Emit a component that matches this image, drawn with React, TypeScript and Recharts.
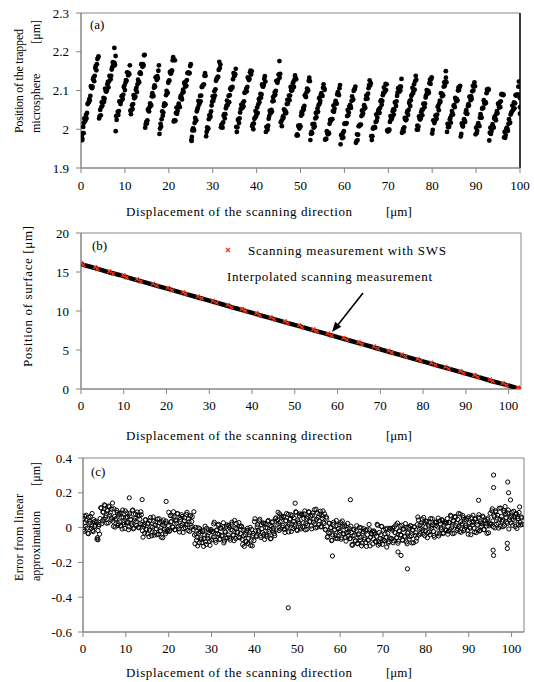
import { ScatterChart, Scatter, XAxis, YAxis, ReferenceArea, ReferenceLine } from "recharts"

const FONT = '"Liberation Serif", "Times New Roman", serif'
const AXIS_GRAY = "#868686"
const SWS_RED = "#f03c1e"

// ---- (a) trapped microsphere position, samples every 0.25 µm (two interleaved passes) ----
const A_STEP = 0.25
const A_Y = [
  1.983, 1.977, 2.006, 2.028, 2.023, 2.028, 2.065, 2.07, 2.074, 2.111, 2.106, 2.129, 2.124, 2.158, 2.152, 2.181, 2.188,
  2.034, 2.036, 2.07, 2.071, 2.071, 2.105, 2.097, 2.116, 2.108, 2.138, 2.129, 2.154, 2.173, 2.164, 2.166,
  2.034, 2.036, 2.037, 2.072, 2.065, 2.085, 2.078, 2.109, 2.101, 2.127, 2.147, 2.139, 2.142,
  2.048, 2.05, 2.052, 2.088, 2.082, 2.102, 2.096, 2.128, 2.121, 2.147, 2.168, 2.161, 2.164, 2.192,
  2.013, 2.015, 2.051, 2.046, 2.067, 2.061, 2.093, 2.086, 2.113, 2.134, 2.127, 2.131, 2.165,
  2.002, 2.007, 2.046, 2.043, 2.067, 2.064, 2.099, 2.094, 2.124, 2.148, 2.144, 2.151, 2.186,
  2.023, 2.022, 2.056, 2.047, 2.066, 2.057, 2.087, 2.077, 2.102, 2.12, 2.11, 2.112, 2.145, 2.146, 2.145, 2.168,
  1.98, 2.002, 1.997, 2.029, 2.023, 2.051, 2.073, 2.067, 2.072, 2.109, 2.113, 2.116, 2.145,
  1.982, 2.005, 2.002, 2.036, 2.032, 2.061, 2.085, 2.08, 2.087, 2.125, 2.131, 2.135, 2.174, 2.167,
  2.011, 2.004, 2.035, 2.028, 2.054, 2.074, 2.067, 2.07, 2.105, 2.108, 2.109, 2.145, 2.138, 2.156,
  1.993, 2.024, 2.016, 2.043, 2.063, 2.055, 2.059, 2.094, 2.097, 2.098, 2.134, 2.127, 2.147, 2.141,
  2.008, 2.0, 2.027, 2.047, 2.039, 2.042, 2.078, 2.08, 2.081, 2.116, 2.11, 2.13, 2.123,
  2.006, 1.999, 2.027, 2.048, 2.042, 2.046, 2.083, 2.086, 2.089, 2.125, 2.12, 2.141, 2.133,
  2.018, 2.008, 2.033, 2.051, 2.041, 2.042, 2.076, 2.076, 2.075, 2.109, 2.1, 2.118, 2.109, 2.139, 2.129,
  1.987, 2.009, 2.002, 2.007, 2.044, 2.048, 2.051, 2.088, 2.083, 2.105, 2.1, 2.133,
  1.972, 1.993, 2.013, 2.004, 2.007, 2.042, 2.044, 2.045, 2.08, 2.073, 2.093, 2.086, 2.116, 2.102,
  1.975, 1.995, 1.987, 1.989, 2.024, 2.025, 2.026, 2.061, 2.053, 2.073, 2.066, 2.096, 2.088, 2.114,
  1.985, 1.977, 1.979, 2.014, 2.015, 2.016, 2.05, 2.043, 2.062, 2.055, 2.085, 2.077, 2.103, 2.11,
  1.969, 1.972, 2.008, 2.011, 2.012, 2.048, 2.041, 2.062, 2.055, 2.087, 2.079, 2.106, 2.126, 2.119,
  1.972, 2.002, 2.003, 2.004, 2.038, 2.03, 2.049, 2.042, 2.072, 2.063, 2.088, 2.108, 2.099, 2.101,
  1.997, 1.999, 1.999, 2.034, 2.026, 2.046, 2.038, 2.069, 2.06, 2.086, 2.106, 2.097, 2.1, 2.13,
  1.993, 1.994, 2.029, 2.023, 2.043, 2.037, 2.068, 2.06, 2.086, 2.107, 2.099, 2.102, 2.138,
  1.999, 1.999, 2.033, 2.025, 2.044, 2.036, 2.066, 2.057, 2.082, 2.101, 2.092, 2.094, 2.128, 2.129,
  1.989, 2.023, 2.016, 2.035, 2.027, 2.058, 2.049, 2.074, 2.093, 2.085, 2.087, 2.121, 2.123, 2.121,
  2.014, 2.006, 2.025, 2.017, 2.047, 2.038, 2.062, 2.081, 2.072, 2.074, 2.108, 2.109,
  1.981, 2.015, 2.007, 2.026, 2.019, 2.049, 2.04, 2.065, 2.084, 2.075, 2.078, 2.112, 2.113, 2.111,
  2.004, 1.996, 2.016, 2.008, 2.039, 2.03, 2.055, 2.075, 2.066, 2.068, 2.103, 2.104,
  1.971, 2.004, 1.995, 2.013, 2.004, 2.033, 2.023, 2.047, 2.066, 2.056, 2.057, 2.09, 2.09, 2.089,
  1.993, 1.985, 2.004, 1.996, 2.026, 2.017, 2.042, 2.061, 2.052, 2.054, 2.088, 2.089, 2.089, 2.123, 2.057,
]
// second pass, offset half a step (0.125, 0.375, ...)
const A_MID_START = 0.125
const A_MID_Y = [
  1.986, 1.99, 2.016, 2.02, 2.037, 2.042, 2.067, 2.078, 2.086, 2.109, 2.11, 2.134, 2.138, 2.164, 2.168, 2.185, 2.028,
  2.05, 2.057, 2.061, 2.081, 2.079, 2.099, 2.1, 2.122, 2.123, 2.136, 2.138, 2.16, 2.167, 2.171, 2.189,
  2.024, 2.045, 2.047, 2.07, 2.072, 2.086, 2.089, 2.112, 2.12, 2.125, 2.146, 2.145, 2.165,
  2.039, 2.062, 2.065, 2.08, 2.084, 2.107, 2.116, 2.122, 2.144, 2.143, 2.165, 2.168, 2.191, 2.004,
  2.019, 2.023, 2.048, 2.057, 2.063, 2.085, 2.085, 2.107, 2.11, 2.134, 2.137, 2.151, 1.988,
  2.014, 2.026, 2.035, 2.06, 2.063, 2.088, 2.093, 2.12, 2.126, 2.144, 2.151, 2.178, 2.02,
  2.023, 2.042, 2.04, 2.059, 2.06, 2.081, 2.082, 2.094, 2.096, 2.117, 2.123, 2.127, 2.146, 2.144, 2.163, 1.972,
  1.997, 2.001, 2.016, 2.021, 2.046, 2.056, 2.063, 2.086, 2.087, 2.11, 2.114, 2.138, 2.138,
  1.993, 2.0, 2.026, 2.038, 2.046, 2.071, 2.073, 2.098, 2.103, 2.13, 2.135, 2.153, 2.158, 2.005,
  2.013, 2.018, 2.039, 2.039, 2.06, 2.062, 2.086, 2.088, 2.102, 2.106, 2.129, 2.138, 2.142, 2.006,
  2.005, 2.026, 2.028, 2.052, 2.054, 2.068, 2.072, 2.095, 2.104, 2.109, 2.131, 2.13, 2.151, 2.15,
  2.013, 2.015, 2.03, 2.033, 2.056, 2.064, 2.07, 2.091, 2.09, 2.111, 2.114, 2.137, 1.993,
  2.005, 2.009, 2.034, 2.043, 2.05, 2.072, 2.073, 2.095, 2.099, 2.123, 2.127, 2.141, 2.143,
  2.02, 2.026, 2.03, 2.049, 2.046, 2.065, 2.066, 2.087, 2.087, 2.1, 2.101, 2.122, 2.128, 2.132, 1.984,
  1.984, 2.006, 2.01, 2.035, 2.039, 2.055, 2.06, 2.085, 2.095, 2.102, 2.125, 2.124,
  1.988, 1.99, 2.012, 2.014, 2.028, 2.031, 2.054, 2.062, 2.067, 2.088, 2.087, 2.107, 2.106, 1.973,
  1.975, 1.989, 1.991, 2.014, 2.021, 2.026, 2.047, 2.045, 2.066, 2.068, 2.09, 2.092, 2.106, 1.961,
  1.983, 1.99, 1.995, 2.015, 2.014, 2.034, 2.036, 2.058, 2.06, 2.073, 2.076, 2.099, 2.104, 1.965,
  1.987, 1.986, 2.008, 2.011, 2.034, 2.037, 2.051, 2.055, 2.078, 2.087, 2.092, 2.114, 2.113, 1.982,
  1.982, 2.004, 2.006, 2.019, 2.021, 2.043, 2.051, 2.055, 2.075, 2.073, 2.094, 2.095, 2.117, 2.116,
  1.994, 1.996, 2.019, 2.026, 2.031, 2.051, 2.05, 2.07, 2.072, 2.095, 2.096, 2.11, 2.11, 1.991,
  2.0, 2.005, 2.026, 2.026, 2.047, 2.05, 2.073, 2.075, 2.089, 2.093, 2.116, 2.124, 2.128,
  2.009, 2.007, 2.027, 2.028, 2.05, 2.051, 2.064, 2.066, 2.088, 2.095, 2.099, 2.119, 2.117, 2.134,
  1.998, 2.021, 2.022, 2.035, 2.038, 2.06, 2.067, 2.071, 2.092, 2.09, 2.11, 2.112, 2.133, 1.993,
  2.005, 2.007, 2.029, 2.036, 2.04, 2.06, 2.057, 2.077, 2.078, 2.1, 2.101, 2.112,
  1.988, 2.01, 2.017, 2.022, 2.042, 2.04, 2.06, 2.061, 2.083, 2.085, 2.098, 2.1, 2.121, 1.987,
  1.99, 2.011, 2.009, 2.03, 2.031, 2.053, 2.055, 2.068, 2.07, 2.093, 2.1, 2.102,
  1.991, 1.988, 2.007, 2.007, 2.028, 2.028, 2.04, 2.041, 2.063, 2.069, 2.072, 2.091, 2.088, 1.979,
  1.978, 2.0, 2.001, 2.014, 2.016, 2.038, 2.045, 2.049, 2.069, 2.067, 2.087, 2.088, 2.11, 2.088,
]
const A_EXTRA_X = [0.3, 0.6, 7.6, 7.9, 21.4, 25.2, 45.2, 83.1, 100, 100]
const A_EXTRA_Y = [1.972, 1.99, 2.21, 1.995, 2.178, 1.97, 2.176, 2.15, 2.08, 2.04]
const A_X_TICKS = [0, 10, 20, 30, 40, 50, 60, 70, 80, 90, 100]
const A_Y_TICKS = [1.9, 2, 2.1, 2.2, 2.3]

// ---- (b) surface position ----
const B_LINE_X = [0, 3, 6, 9, 12, 15, 18, 21, 24, 27, 30, 33, 36, 39, 42, 45, 48, 51, 54, 57, 60, 63, 66, 69, 72, 75, 78, 81, 84, 87, 90, 93, 96, 99, 102, 102.7]
const B_LINE_Y = [16.0, 15.55, 15.05, 14.62, 14.12, 13.68, 13.18, 12.74, 12.25, 11.8, 11.34, 10.87, 10.38, 9.93, 9.45, 9.0, 8.51, 8.06, 7.58, 7.13, 6.64, 6.19, 5.71, 5.26, 4.77, 4.32, 3.84, 3.39, 2.9, 2.46, 1.97, 1.52, 1.03, 0.59, 0.12, 0.0]
const B_SWS_X = [0, 0.5, 3.3, 3.8, 6.6, 7.5, 9.9, 10.7, 13.1, 14.0, 16.8, 17.7, 20.3, 21.3, 23.8, 24.4, 27.3, 28.2, 30.8, 31.7, 34.3, 35.2, 37.6, 38.4, 41.0, 41.8, 44.3, 45.1, 47.6, 48.3, 51.0, 51.7, 54.3, 55.1, 57.7, 58.6, 61.4, 62.2, 64.9, 65.7, 68.5, 69.4, 71.9, 72.7, 75.0, 75.9, 78.7, 79.4, 81.9, 82.9, 85.2, 86.0, 88.7, 89.5, 92.0, 92.8, 95.6, 96.3, 98.6, 99.5, 102.1, 102.7]
const B_SWS_Y = [16.15, 15.9, 15.62, 15.38, 15.1, 14.8, 14.58, 14.3, 14.08, 13.8, 13.5, 13.22, 12.96, 12.66, 12.42, 12.18, 11.88, 11.6, 11.33, 11.05, 10.78, 10.5, 10.26, 10.0, 9.74, 9.47, 9.22, 8.95, 8.7, 8.45, 8.18, 7.93, 7.66, 7.4, 7.14, 6.85, 6.56, 6.29, 6.02, 5.74, 5.46, 5.17, 4.92, 4.65, 4.44, 4.15, 3.86, 3.61, 3.36, 3.06, 2.86, 2.58, 2.31, 2.04, 1.8, 1.52, 1.24, 0.98, 0.76, 0.48, 0.2, 0.0]
const B_X_MAX = 102.9
const B_Y_TICKS = [0, 5, 10, 15, 20]

// ---- (c) error from linear approximation, samples every 0.25 µm (two interleaved passes) ----
const C_STEP = 0.25
const C_Y = [
  0.052, -0.021, 0.028, 0.071, -0.002, -0.035, 0.037, 0.064, 0.011, -0.016, 0.046, 0.006,
  0.038, -0.067, -0.017, 0.017,
  0.052, 0.112, 0.039, 0.088, 0.131, 0.058, 0.025, 0.097, 0.124, 0.071, 0.044, 0.106,
  0.036, 0.108, 0.003, 0.053, 0.087, 0.022, 0.082, 0.009, 0.058, 0.101, 0.028, -0.005,
  0.057, 0.084, 0.031, 0.004, 0.066, 0.026, 0.098, -0.007, 0.043, 0.077, 0.012, 0.072, -0.001, 0.048, 0.091, 0.018,
  -0.055, 0.017, 0.044, -0.009, -0.036, 0.026, -0.014, 0.058, -0.047, 0.003, 0.037, -0.028, 0.032, -0.041, 0.008, 0.051, -0.022, -0.055, 0.017, 0.044, -0.009, -0.036, 0.026, -0.014,
  0.088, -0.017, 0.033, 0.067, 0.002, 0.062, -0.011, 0.038, 0.081, 0.008, -0.025, 0.047, 0.074, 0.021, -0.006, 0.056, 0.016, 0.088, -0.017, 0.033, 0.067, 0.002, 0.062, -0.011,
  -0.042, 0.001, -0.072, -0.105, -0.033, -0.006, -0.059, -0.086, -0.024, -0.064, 0.008, -0.097, -0.047, -0.013, -0.078, -0.018,
  -0.071, -0.022, 0.021, -0.052, -0.085, -0.013, 0.014, -0.039, -0.066, -0.004, -0.044, 0.028, -0.077, -0.027, 0.007, -0.058,
  0.012, -0.061, -0.012, 0.031, -0.042, -0.075, -0.003, 0.024, -0.029, -0.056, 0.006, -0.034,
  0.008, -0.097, -0.047, -0.013, -0.078, -0.018, -0.091, -0.042, 0.001, -0.072, -0.105, -0.033,
  0.034, -0.019, -0.046, 0.016, -0.024, 0.048, -0.057, -0.007, 0.027, -0.038, 0.022, -0.051, -0.002, 0.041, -0.032, -0.065, 0.007, 0.034, -0.019, -0.046,
  0.056, 0.016, 0.088, -0.017, 0.033, 0.067, 0.002, 0.062, -0.011, 0.038, 0.081, 0.008, -0.025, 0.047, 0.074, 0.021, -0.006, 0.056, 0.016, 0.088, -0.017, 0.033, 0.067, 0.002,
  0.077, 0.004, 0.053, 0.096, 0.023, -0.01, 0.062, 0.089, 0.036, 0.009, 0.071, 0.031, 0.103, -0.002, 0.048, 0.082, 0.017, 0.077, 0.004, 0.053, 0.096, 0.023, -0.01, 0.062,
  -0.056, -0.029, 0.024, -0.003, -0.075, -0.042, 0.031, -0.012, -0.061, 0.012, -0.048, 0.017, -0.017, -0.067, 0.038, -0.034, 0.006, -0.056, -0.029, 0.024,
  -0.024, -0.064, 0.008, -0.097, -0.047, -0.013, -0.078, -0.018, -0.091, -0.042, 0.001, -0.072, -0.105, -0.033, -0.006, -0.059, -0.086,
  -0.012, -0.072, 0.018, -0.105, -0.035, -0.021, -0.066, -0.026, -0.079, -0.05, 0.013, -0.08, -0.093, -0.041, 0.006, -0.067, -0.074,
  -0.036, -0.056, -0.004, -0.089, -0.059, -0.005,
  -0.063, -0.003, -0.076, -0.027, 0.016, -0.057, -0.09, -0.018, 0.009, -0.044, -0.071, -0.009, -0.049, 0.023, -0.082, -0.032, 0.002, -0.052, 0.01, -0.088, -0.015, 0.004, -0.045, -0.078,
  0.017, 0.044, -0.009, -0.036, 0.026, -0.014, 0.058, -0.047, 0.003, 0.037, -0.028, 0.032, -0.041, 0.008, 0.051, -0.022, -0.055, 0.029, 0.032, 0.003, -0.048, 0.038, -0.002, 0.046, -0.035, 0.015, 0.025, -0.016,
  0.052, -0.021, 0.028, 0.071, -0.002, -0.035, 0.037, 0.064, 0.011, -0.016, 0.046, 0.006, 0.078, -0.027, 0.023, 0.057, -0.008,
  0.012, 0.043, -0.015, 0.062, 0.002, -0.041, 0.03, 0.071, -0.004, 0.048, -0.029, 0.017, 0.059, -0.02, 0.034, 0.008, 0.066,
  -0.012, 0.041, 0.024, -0.033, 0.055, 0.01,
  0.082, 0.021, 0.108, 0.004, 0.063, 0.096, 0.019, 0.071, -0.003, 0.048, 0.112, 0.036, 0.005, 0.089, 0.121, 0.058, 0.024, 0.101, 0.043, 0.159, 0.067, 0.012, 0.094, 0.038, 0.076, -0.005, 0.052, 0.087, 0.029, 0.061, 0.018,
]
const C_MID_START = 0.125
const C_MID_Y = [
  -0.011, 0.066, 0.008, 0.041, -0.032, 0.059, 0.025, -0.005, 0.081, -0.023, 0.034, 0.014,
  0.029, -0.058, 0.007, -0.038,
  0.114, 0.022, 0.089, 0.049, 0.126, 0.068, 0.101, 0.028, 0.119, 0.085, 0.055, 0.141,
  0.007, 0.064, 0.044, 0.099, 0.012, 0.077, 0.032, 0.084, -0.008, 0.059, 0.019, 0.096,
  0.028, 0.061, -0.012, 0.079, 0.045, 0.015, 0.101, -0.003, 0.054, 0.034, 0.089, 0.002, 0.067, 0.022, 0.074, -0.018,
  0.009, -0.031, 0.046, -0.012, 0.021, -0.052, 0.039, 0.005, -0.025, 0.061, -0.043, 0.014, -0.006, 0.049, -0.038, 0.027, -0.018, 0.034, -0.058, 0.009, -0.024, 0.038, -0.019, 0.012,
  -0.022, 0.069, 0.035, 0.005, 0.091, -0.013, 0.044, 0.024, 0.079, -0.008, 0.057, 0.012, 0.064, -0.028, 0.039, -0.001, 0.076, 0.018, 0.051, -0.022, 0.069, 0.035, 0.005, 0.091,
  -0.093, -0.036, -0.056, -0.001, -0.088, -0.023, -0.068, -0.016, -0.108, -0.041, -0.081, -0.004, -0.062, -0.029, -0.102, -0.011,
  -0.025, -0.055, 0.031, -0.073, -0.016, -0.036, 0.019, -0.068, -0.003, -0.048, 0.004, -0.088, -0.021, -0.061, 0.016, -0.042,
  0.001, -0.072, 0.019, -0.015, -0.045, 0.041, -0.063, -0.006, -0.026, 0.029, -0.058, 0.007,
  -0.068, -0.016, -0.108, -0.041, -0.081, -0.004, -0.062, -0.029, -0.102, -0.011, -0.045, -0.075,
  0.051, -0.053, 0.004, -0.016, 0.039, -0.048, 0.017, -0.028, 0.024, -0.068, -0.001, -0.041, 0.036, -0.022, 0.011, -0.062, 0.029, -0.005, -0.035, 0.051,
  -0.013, 0.044, 0.024, 0.079, -0.008, 0.057, 0.012, 0.064, -0.028, 0.039, -0.001, 0.076, 0.018, 0.051, -0.022, 0.069, 0.035, 0.005, 0.091, -0.013, 0.044, 0.024, 0.079, -0.008,
  0.072, 0.027, 0.079, -0.013, 0.054, 0.014, 0.091, 0.033, 0.066, -0.007, 0.084, 0.05, 0.02, 0.106, 0.002, 0.059, 0.039, 0.094, 0.007, 0.068, 0.031, 0.079, -0.013, 0.054,
  -0.051, 0.026, -0.032, 0.001, -0.072, 0.019, -0.015, -0.045, 0.041, -0.063, -0.006, -0.026, 0.029, -0.058, 0.007, -0.038, 0.014, -0.078, -0.011, -0.051,
  -0.004, -0.062, -0.029, -0.102, -0.011, -0.045, -0.075, 0.011, -0.093, -0.036, -0.056, -0.001, -0.088, -0.023, -0.068, -0.016, -0.108, -0.041,
  -0.073, -0.012, -0.054, -0.037, -0.094, -0.019, -0.037, -0.083, 0.019, -0.101, -0.028, -0.064, 0.007, -0.096, -0.015, -0.076, -0.008, -0.112, -0.033,
  -0.081, -0.004, -0.062,
  -0.014, -0.087, 0.004, -0.03, -0.06, 0.026, -0.078, -0.021, -0.041, 0.014, -0.073, -0.008, -0.053, -0.001, -0.093, -0.026, -0.066, 0.011, -0.047, -0.014, -0.087, 0.004, -0.03, -0.06,
  0.061, -0.043, 0.014, -0.006, 0.049, -0.038, 0.027, -0.018, 0.034, -0.058, 0.009, -0.024, 0.052, -0.004, 0.015, -0.045, 0.031, 0.012, -0.031, 0.055, -0.036, 0.02, -0.012, 0.041, -0.03, 0.033, -0.011, 0.026,
  -0.038, 0.029,
  -0.011, 0.066, 0.008, 0.041, -0.032, 0.059, 0.025, -0.005, 0.081, -0.023, 0.034, 0.014, 0.069, -0.018, 0.047, 0.002, 0.054, -0.038, 0.029,
  -0.004, 0.058, 0.015, 0.033, -0.025, 0.051, 0.032, -0.012, 0.074, -0.016, 0.026, 0.021, 0.061, -0.011, 0.039, 0.009, 0.046, -0.03, 0.022,
  0.019, 0.096, 0.038, 0.071, -0.002, 0.089, 0.055, 0.025, 0.111, 0.007, 0.064, 0.044, 0.099, 0.012, 0.077, 0.032, 0.084, -0.008, 0.059,
  0.027, 0.088, 0.046, 0.063, 0.006, 0.081, 0.063, 0.017, 0.119, 0.015, 0.056,
]
const C_EXTRA_X = [3.5, 10.8, 13.8, 19.4, 47.9, 49.5, 58.2, 62.4, 73.5, 74.2, 75.7, 92.3, 95.7, 95.8, 95.8, 95.8, 99.0, 99.0, 99.1, 99.3]
const C_EXTRA_Y = [-0.07, 0.171, 0.161, 0.15, -0.461, 0.14, -0.163, 0.16, -0.14, -0.16, -0.237, 0.157, -0.13, -0.16, 0.23, 0.302, -0.09, -0.12, 0.262, 0.2]
const C_Y_TICKS = [-0.6, -0.4, -0.2, 0, 0.2, 0.4]

const X_TITLE = "Displacement of the scanning direction"
const UNIT = "[μm]"

const aPoints = [
  ...A_Y.map((y, i) => ({ x: i * A_STEP, y })),
  ...A_MID_Y.map((y, i) => ({ x: A_MID_START + i * A_STEP, y })),
  ...A_EXTRA_X.map((x, i) => ({ x, y: A_EXTRA_Y[i] })),
]
const bLine = B_LINE_X.map((x, i) => ({ x, y: B_LINE_Y[i] }))
const bSws = B_SWS_X.map((x, i) => ({ x, y: B_SWS_Y[i] }))
const cPoints = [
  ...C_Y.map((y, i) => ({ x: i * C_STEP, y })),
  ...C_MID_Y.map((y, i) => ({ x: C_MID_START + i * C_STEP, y })),
  ...C_EXTRA_X.map((x, i) => ({ x, y: C_EXTRA_Y[i] })),
]

const tickStyle = { fill: "#000", fontSize: 13, fontFamily: FONT }

const Dot = (p: any) => <circle cx={p.cx} cy={p.cy} r={2.4} fill="#000" />
const Ring = (p: any) => <circle cx={p.cx} cy={p.cy} r={2.1} fill="none" stroke="#000" strokeWidth={1} />
const Cross = (p: any) => (
  <path
    d={`M${p.cx - 2},${p.cy - 2}L${p.cx + 2},${p.cy + 2}M${p.cx - 2},${p.cy + 2}L${p.cx + 2},${p.cy - 2}`}
    stroke={SWS_RED}
    strokeWidth={1.2}
  />
)
const Nothing = () => <g />

const axisCommon = {
  tick: tickStyle,
  axisLine: { stroke: AXIS_GRAY },
  tickLine: { stroke: AXIS_GRAY },
  tickSize: 5,
  interval: 0 as const,
  allowDataOverflow: true,
}

const XTitle = ({ y }: { y: number }) => (
  <g fontFamily={FONT} fontSize={13} fill="#000">
    <text x={126} y={y} textLength={226} lengthAdjust="spacing">{X_TITLE}</text>
    <text x={386} y={y}>{UNIT}</text>
  </g>
)

const Overlay = () => (
  <svg width={534} height={682} style={{ position: "absolute", left: 0, top: 0, pointerEvents: "none" }}>
    <g fontFamily={FONT} fontSize={13} fill="#000">
      {/* panel (a) */}
      <text x={90} y={28.5}>(a)</text>
      <text transform="translate(22.5,133) rotate(-90)" fontSize={12} textLength={104} lengthAdjust="spacing">Position of the trapped</text>
      <text transform="translate(39.5,133) rotate(-90)" fontSize={12}>microsphere</text>
      <text transform="translate(39.5,20) rotate(-90)" fontSize={12} textAnchor="end">{UNIT}</text>

      {/* panel (b) */}
      <text x={92} y={249.5}>(b)</text>
      <text transform="translate(31.5,367) rotate(-90)" textLength={141} lengthAdjust="spacing">Position of surface [μm]</text>
      <path d="M226,248L230,252M226,252L230,248" stroke={SWS_RED} strokeWidth={1.4} />
      <text x={248} y={254.5} textLength={198} lengthAdjust="spacing">Scanning measurement with SWS</text>
      <text x={227} y={281} textLength={205} lengthAdjust="spacing">Interpolated scanning measurement</text>
      <line x1={363} y1={293} x2={337} y2={326} stroke="#000" strokeWidth={1.6} />
      <polygon points="332,332 341.3,326.7 335.1,321.7" fill="#000" />

      {/* panel (c) */}
      <text x={91} y={476}>(c)</text>
      <text transform="translate(22.5,581) rotate(-90)" fontSize={12} textLength={87} lengthAdjust="spacing">Error from linear</text>
      <text transform="translate(39.5,581) rotate(-90)" fontSize={12}>approximation</text>
      <text transform="translate(39.5,462) rotate(-90)" fontSize={12} textAnchor="end">{UNIT}</text>
    </g>
    <XTitle y={215.5} />
    <XTitle y={440} />
    <XTitle y={676.5} />
  </svg>
)

export default function App() {
  return (
    <div style={{ position: "absolute", left: 0, top: 0, width: 534, height: 682, background: "#fff", fontFamily: FONT }}>
      <div style={{ position: "absolute", left: 0, top: 0 }}>
        <ScatterChart width={534} height={222} margin={{ top: 13, right: 14, bottom: 0, left: 0 }}>
          <XAxis type="number" dataKey="x" domain={[0, 100]} ticks={A_X_TICKS} height={54} tickMargin={8} {...axisCommon} />
          <YAxis type="number" dataKey="y" domain={[1.9, 2.3]} ticks={A_Y_TICKS} width={81} tickMargin={7} {...axisCommon} />
          <ReferenceArea x1={0} x2={100} y1={1.9} y2={2.3} fill="none" stroke={AXIS_GRAY} />
          <ReferenceLine x={100} stroke="#111" strokeWidth={1.5} />
          <Scatter data={aPoints} shape={Dot} isAnimationActive={false} />
        </ScatterChart>
      </div>

      <div style={{ position: "absolute", left: 0, top: 222 }}>
        <ScatterChart width={534} height={224} margin={{ top: 11, right: 13, bottom: 0, left: 0 }}>
          <XAxis type="number" dataKey="x" domain={[0, B_X_MAX]} ticks={A_X_TICKS} height={57} tickMargin={7} {...axisCommon} />
          <YAxis type="number" dataKey="y" domain={[0, 20]} ticks={B_Y_TICKS} width={81} tickMargin={7} {...axisCommon} />
          <ReferenceArea x1={0} x2={B_X_MAX} y1={0} y2={20} fill="none" stroke={AXIS_GRAY} />
          <Scatter data={bLine} shape={Nothing} line={{ stroke: "#000", strokeWidth: 4.5 }} isAnimationActive={false} />
          <Scatter data={bSws} shape={Cross} isAnimationActive={false} />
        </ScatterChart>
      </div>

      <div style={{ position: "absolute", left: 0, top: 446 }}>
        <ScatterChart width={534} height={236} margin={{ top: 12, right: 10, bottom: 0, left: 0 }}>
          <XAxis type="number" dataKey="x" domain={[0, B_X_MAX]} ticks={A_X_TICKS} height={50} tickMargin={7} {...axisCommon} />
          <YAxis type="number" dataKey="y" domain={[-0.6, 0.4]} ticks={C_Y_TICKS} width={83} tickMargin={6} {...axisCommon} />
          <ReferenceArea x1={0} x2={B_X_MAX} y1={-0.6} y2={0.4} fill="none" stroke={AXIS_GRAY} />
          <Scatter data={cPoints} shape={Ring} isAnimationActive={false} />
        </ScatterChart>
      </div>

      <Overlay />
    </div>
  )
}
